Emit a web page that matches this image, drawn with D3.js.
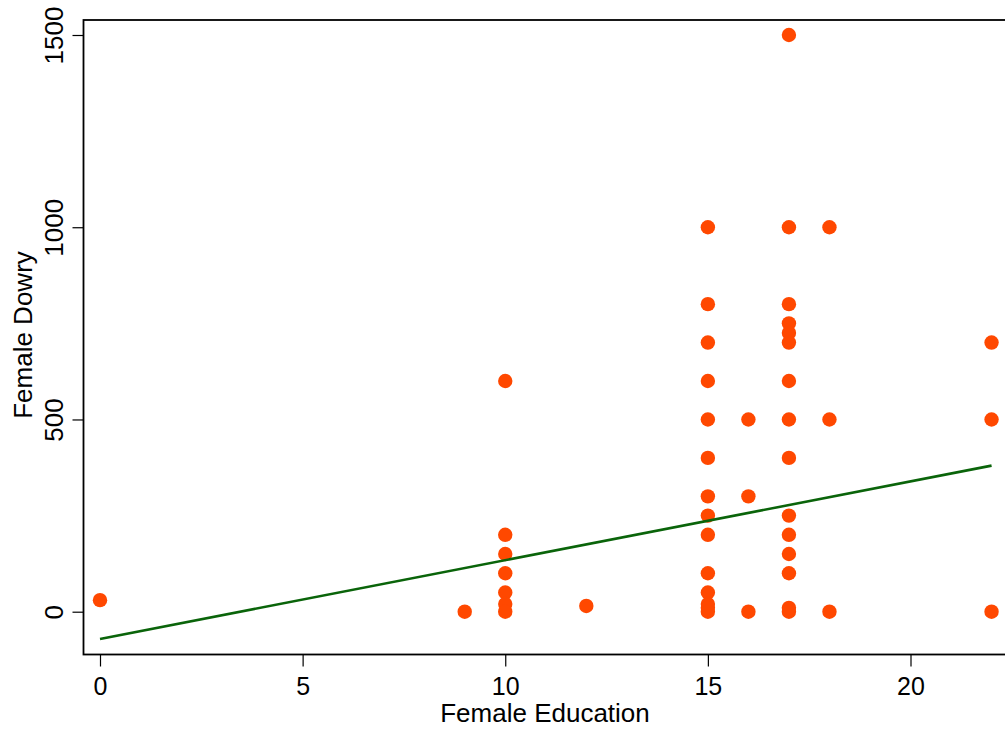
<!DOCTYPE html>
<html>
<head>
<meta charset="utf-8">
<script src="https://cdn.jsdelivr.net/npm/d3@7"></script>
<style>
  body { margin: 0; background: #fff; }
  text { font-family: "Liberation Sans", Arial, sans-serif; fill: #000; }
</style>
</head>
<body>
<script>
// female education (years) and dowry
let education = [0,
    9,
    10, 10, 10, 10, 10, 10, 10,
    12,
    15, 15, 15, 15, 15, 15, 15, 15, 15, 15, 15, 15, 15, 15,
    16, 16, 16,
    17, 17, 17, 17, 17, 17, 17, 17, 17, 17, 17, 17, 17, 17, 17,
    18, 18, 18,
    22, 22, 22];
let dowry = [30,
    0,
    600, 200, 150, 100, 50, 20, 0,
    15,
    1000, 800, 700, 600, 500, 400, 300, 250, 200, 100, 50, 20, 10, 0,
    500, 300, 0,
    1500, 1000, 800, 750, 725, 700, 600, 500, 400, 250, 200, 150, 100, 10, 0,
    1000, 500, 0,
    700, 500, 0];

// fitted line end points
let fitX = [0, 22];
let fitY = [-71, 380];

let xTicks = [0, 5, 10, 15, 20];
let yTicks = [0, 500, 1000, 1500];

let width = 1005;
let height = 729;

let svg = d3.select("body").append("svg")
    .attr("width", width)
    .attr("height", height);

let frame = { left: 83.5, top: 20, bottom: 654.5, right: 1012 };

let x = d3.scaleLinear().domain([0, 20]).range([100, 910.5]);
let y = d3.scaleLinear().domain([0, 1500]).range([611.7, 35]);

// plot frame (right side runs off the picture)
svg.append("rect")
    .attr("x", frame.left)
    .attr("y", frame.top)
    .attr("width", frame.right - frame.left)
    .attr("height", frame.bottom - frame.top)
    .attr("fill", "none")
    .attr("stroke", "#000")
    .attr("stroke-width", 1.8);

// points
let pts = education.map((e, i) => ({ e: e, d: dowry[i] }));
svg.append("g").selectAll("circle")
    .data(pts)
    .join("circle")
    .attr("cx", d => x(d.e))
    .attr("cy", d => y(d.d))
    .attr("r", 7.2)
    .attr("fill", "#ff4800");

// fit line
let line = d3.line().x(d => x(d[0])).y(d => y(d[1]));
svg.append("path")
    .datum(fitX.map((v, i) => [v, fitY[i]]))
    .attr("fill", "none")
    .attr("stroke", "#0a640a")
    .attr("stroke-width", 2.6)
    .attr("d", line);

// x axis
let xAxis = d3.axisBottom(x).tickValues(xTicks).tickSize(12).tickSizeOuter(0).tickPadding(11);
let xg = svg.append("g").attr("transform", "translate(0," + frame.bottom + ")").call(xAxis);
xg.select(".domain").remove();
xg.selectAll("line").attr("stroke", "#000").attr("stroke-width", 1.2);
xg.selectAll("text").attr("font-size", 25).attr("font-family", "Liberation Sans, Arial, sans-serif").attr("fill", "#000");

// y axis, labels turned on their side
let yAxis = d3.axisLeft(y).tickValues(yTicks).tickSize(11).tickSizeOuter(0).tickFormat(d3.format("d"));
let yg = svg.append("g").attr("transform", "translate(" + frame.left + ",0)").call(yAxis);
yg.select(".domain").remove();
yg.selectAll("line").attr("stroke", "#000").attr("stroke-width", 1.2);
yg.selectAll("text")
    .attr("font-size", 26)
    .attr("font-family", "Liberation Sans, Arial, sans-serif")
    .attr("fill", "#000")
    .attr("x", null).attr("dy", null)
    .attr("text-anchor", "middle")
    .attr("transform", "translate(-21,0) rotate(-90)");

// axis titles
svg.append("text")
    .attr("x", 545)
    .attr("y", 722)
    .attr("text-anchor", "middle")
    .attr("font-size", 26)
    .text("Female Education");

svg.append("text")
    .attr("transform", "translate(32,335) rotate(-90)")
    .attr("text-anchor", "middle")
    .attr("font-size", 26)
    .text("Female Dowry");
</script>
</body>
</html>
